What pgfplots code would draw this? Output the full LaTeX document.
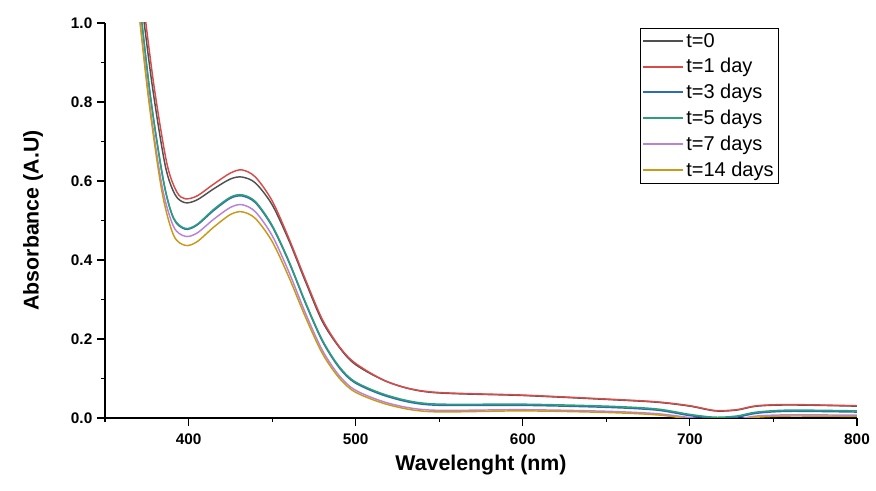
\documentclass[border=0pt]{standalone}
\usepackage{pgfplots}
\pgfplotsset{compat=1.18}
\usepackage{fontspec}
\setmainfont{Liberation Sans}
\definecolor{cBlack}{HTML}{505050}
\definecolor{cRed}{HTML}{D84B4B}
\definecolor{cBlue}{HTML}{2F6BB5}
\definecolor{cGreen}{HTML}{2E9E78}
\definecolor{cPurple}{HTML}{B882DB}
\definecolor{cYellow}{HTML}{C99A1A}
\begin{document}
\begin{tikzpicture}
\begin{axis}[
  scale only axis, width=564pt, height=296.25pt,
  xmin=350, xmax=800, ymin=0, ymax=1.0,
  xtick={400,500,600,700,800}, minor xtick={350,450,550,650,750},
  ytick={0,0.2,0.4,0.6,0.8,1.0}, minor ytick={0.1,0.3,0.5,0.7,0.9},
  yticklabel style={/pgf/number format/.cd,fixed,fixed zerofill,precision=1},
  /pgf/number format/assume math mode=true,
  ticklabel style={font=\bfseries\fontsize{11.5}{13}\selectfont},
  xticklabel style={yshift=-2pt},
  tick align=outside, axis line style={thick}, tick style={black,thick},
  major tick length=6pt, minor tick length=3pt,
  axis x line*=bottom, axis y line*=left,
  xlabel={\bfseries Wavelenght (nm)}, ylabel={\bfseries Absorbance (A.U)},
  label style={font=\bfseries\fontsize{16}{18}\selectfont},
  ylabel style={yshift=14pt}, xlabel style={yshift=-1pt},
  legend style={at={(0.711,0.987)},anchor=north west,draw=black,font=\fontsize{15}{18}\selectfont,row sep=3pt,inner sep=1.5pt},
  legend cell align=left,
  legend image code/.code={\draw[#1,line width=1.4pt,sharp plot] (0cm,0cm) -- (1.05cm,0cm);},
  every axis plot/.append style={smooth,line width=1.1pt},
  clip=true,
]
\addplot[cBlack] coordinates {(370,1.12)(378,0.85)(386,0.64)(392,0.565)(398,0.545)(405,0.552)(415,0.58)(425,0.605)(432,0.61)(440,0.595)(450,0.54)(460,0.45)(470,0.345)(480,0.245)(490,0.18)(500,0.135)(520,0.09)(545,0.065)(600,0.057)(650,0.047)(680,0.04)(700,0.03)(715,0.018)(728,0.02)(740,0.03)(760,0.033)(800,0.03)};
\addlegendentry{t=0}
\addplot[cRed] coordinates {(371,1.12)(379,0.85)(387,0.645)(393,0.572)(398,0.555)(405,0.562)(415,0.592)(425,0.62)(432,0.628)(440,0.61)(450,0.55)(460,0.455)(470,0.35)(480,0.25)(490,0.182)(500,0.138)(520,0.09)(545,0.066)(600,0.058)(650,0.048)(680,0.041)(700,0.031)(715,0.019)(728,0.021)(740,0.031)(760,0.034)(800,0.031)};
\addlegendentry{t=1 day}
\addplot[cBlue] coordinates {(369,1.12)(377,0.82)(385,0.6)(391,0.505)(398,0.478)(405,0.488)(415,0.525)(425,0.556)(432,0.562)(440,0.545)(450,0.485)(460,0.395)(470,0.29)(480,0.195)(490,0.128)(500,0.088)(520,0.053)(545,0.033)(600,0.032)(650,0.027)(680,0.02)(700,0.006)(715,0.0)(728,0.002)(740,0.012)(760,0.017)(800,0.015)};
\addlegendentry{t=3 days}
\addplot[cGreen] coordinates {(369,1.12)(377,0.82)(385,0.6)(391,0.507)(398,0.48)(405,0.49)(415,0.528)(425,0.559)(432,0.565)(440,0.548)(450,0.488)(460,0.398)(470,0.293)(480,0.198)(490,0.131)(500,0.091)(520,0.056)(545,0.036)(600,0.035)(650,0.03)(680,0.023)(700,0.009)(715,0.002)(728,0.005)(740,0.015)(760,0.02)(800,0.018)};
\addlegendentry{t=5 days}
\addplot[cPurple] coordinates {(368,1.12)(376,0.82)(384,0.59)(391,0.485)(398,0.46)(405,0.468)(415,0.503)(425,0.533)(432,0.54)(440,0.522)(450,0.462)(460,0.37)(470,0.265)(480,0.172)(490,0.108)(500,0.07)(520,0.037)(545,0.02)(600,0.021)(650,0.017)(680,0.011)(700,0.001)(715,-0.005)(728,-0.003)(740,0.005)(760,0.008)(800,0.007)};
\addlegendentry{t=7 days}
\addplot[cYellow] coordinates {(368,1.12)(376,0.81)(384,0.575)(391,0.463)(398,0.437)(405,0.446)(415,0.483)(425,0.515)(432,0.522)(440,0.505)(450,0.447)(460,0.357)(470,0.255)(480,0.164)(490,0.102)(500,0.065)(520,0.033)(545,0.016)(600,0.018)(650,0.014)(680,0.008)(700,-0.002)(715,-0.006)(728,-0.004)(740,0.002)(760,0.005)(800,0.004)};
\addlegendentry{t=14 days}
\end{axis}
\path[use as bounding box] (-78.75pt,-54.75pt) rectangle (578.25pt,313.5pt);
\end{tikzpicture}
\end{document}
